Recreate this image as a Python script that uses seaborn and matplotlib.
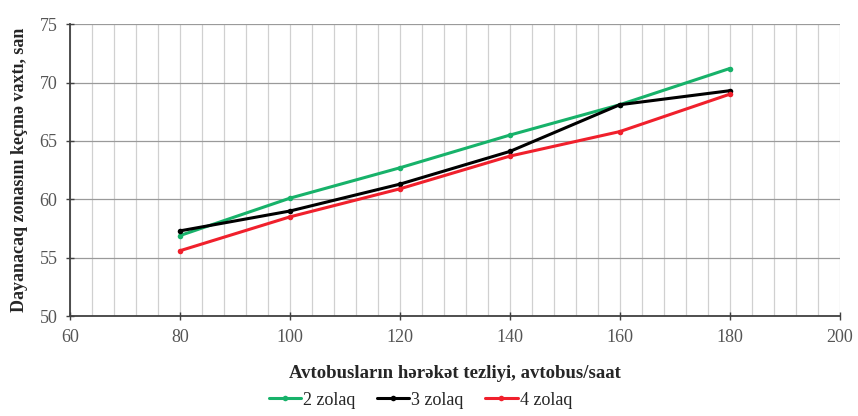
import matplotlib
matplotlib.use("Agg")
import matplotlib.pyplot as plt
from matplotlib.ticker import MultipleLocator
import seaborn as sns
import pandas as pd

speed = [80, 100, 120, 140, 160, 180]
zolaq2 = [56.9, 60.1, 62.7, 65.5, 68.1, 71.2]
zolaq3 = [57.3, 59.0, 61.3, 64.1, 68.1, 69.3]
zolaq4 = [55.6, 58.5, 60.9, 63.7, 65.8, 69.0]
series_names = ["2 zolaq", "3 zolaq", "4 zolaq"]
colors = ["#17b26a", "#000000", "#f0202c"]

df = pd.DataFrame({
    "x": speed * 3,
    "y": zolaq2 + zolaq3 + zolaq4,
    "s": [series_names[0]] * 6 + [series_names[1]] * 6 + [series_names[2]] * 6,
})

sns.set_theme(style="white")
plt.rcParams["font.family"] = ["Liberation Serif", "DejaVu Serif"]

fig = plt.figure(figsize=(8.58, 4.16), dpi=100)
ax = fig.add_axes([0.0816, 0.240, 0.897, 0.702])

sns.lineplot(data=df, x="x", y="y", hue="s", palette=colors, marker="o",
             markersize=4, markeredgewidth=0, linewidth=2.2, ax=ax, legend=True)

ax.set_xlim(60, 200)
ax.set_ylim(50, 75)
ax.xaxis.set_major_locator(MultipleLocator(20))
ax.xaxis.set_minor_locator(MultipleLocator(4))
ax.yaxis.set_major_locator(MultipleLocator(5))
ax.grid(which="minor", axis="x", color="#d0d0d0", linewidth=0.9)
ax.grid(which="major", axis="x", color="#d0d0d0", linewidth=0.9)
ax.grid(which="major", axis="y", color="#9a9a9a", linewidth=0.9)
ax.set_axisbelow(True)
for s in ["top", "right"]:
    ax.spines[s].set_visible(False)
for s in ["left", "bottom"]:
    ax.spines[s].set_color("#404040")
    ax.spines[s].set_linewidth(1.3)
ax.tick_params(axis="both", which="major", direction="inout", length=6,
               width=1, color="#404040", labelsize=13, labelcolor="#555555", pad=6, left=True, bottom=True)
ax.tick_params(axis="x", which="minor", length=0)

ax.set_xlabel("Avtobusların hərəkət tezliyi, avtobus/saat", fontsize=13.5,
              fontweight="bold", labelpad=14)
ax.set_ylabel("Dayanacaq zonasını keçmə vaxtı, san", fontsize=13,
              fontweight="bold", labelpad=8)

handles, labels = ax.get_legend_handles_labels()
leg = ax.legend(handles, labels, loc="upper center", bbox_to_anchor=(0.455, -0.215),
                ncol=3, frameon=False, fontsize=13, handlelength=1.8,
                handletextpad=0.1, columnspacing=1.2, borderpad=0.2)

fig.savefig("out.png", dpi=100)
